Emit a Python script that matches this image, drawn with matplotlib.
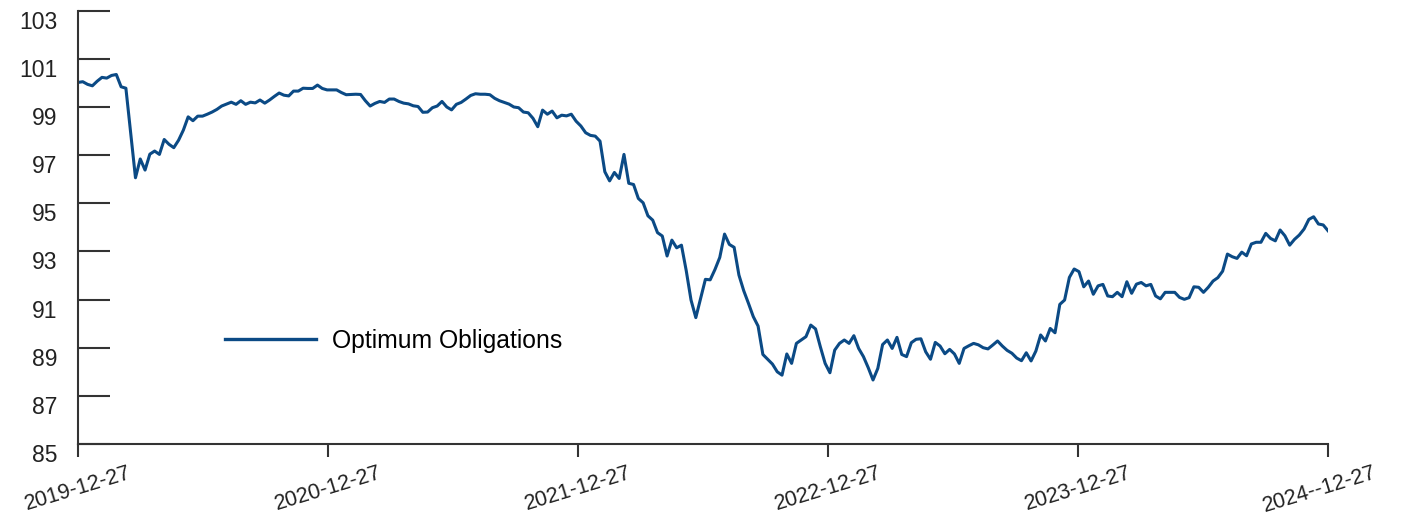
import matplotlib
matplotlib.use("Agg")
import matplotlib.pyplot as plt
import matplotlib.transforms as mtransforms
import pandas as pd

start_date = "2019-12-27"
series_name = "Optimum Obligations"
values = [
    100.02, 100.05, 99.94, 99.88, 100.07, 100.23, 100.20, 100.31, 100.35, 99.84,
    99.78, 97.90, 96.06, 96.84, 96.38, 97.04, 97.17, 97.03, 97.65, 97.45,
    97.31, 97.62, 98.04, 98.59, 98.43, 98.62, 98.62, 98.70, 98.79, 98.90,
    99.04, 99.12, 99.20, 99.11, 99.26, 99.11, 99.20, 99.17, 99.29, 99.16,
    99.29, 99.44, 99.58, 99.49, 99.46,
    99.66, 99.66, 99.78, 99.77, 99.77, 99.91, 99.77, 99.71, 99.71, 99.71,
    99.60, 99.51, 99.52, 99.53, 99.52, 99.26, 99.04, 99.15, 99.23, 99.19,
    99.33, 99.33, 99.23, 99.16, 99.13, 99.05, 99.02, 98.78, 98.79, 98.97,
    99.04, 99.23, 99.00, 98.88, 99.11, 99.19, 99.33, 99.48, 99.55, 99.53,
    99.53, 99.51, 99.36, 99.26,
    99.19, 99.12, 99.00, 98.97, 98.79, 98.76, 98.53, 98.18, 98.87, 98.70,
    98.83, 98.55, 98.66, 98.63, 98.70, 98.41, 98.21, 97.93, 97.82, 97.79,
    97.58, 96.31, 95.93, 96.28, 96.03, 97.03, 95.83, 95.78, 95.20, 95.02,
    94.48, 94.30, 93.78, 93.64, 92.81, 93.47, 93.15, 93.26, 92.20, 90.98,
    90.25, 91.05,
    91.84, 91.82, 92.25, 92.75, 93.72, 93.29, 93.17, 92.02, 91.37, 90.84,
    90.29, 89.90, 88.72, 88.52, 88.32, 88.00, 87.86, 88.74, 88.35, 89.18,
    89.32, 89.46, 89.94, 89.78, 89.04, 88.35, 87.96, 88.90, 89.18, 89.32,
    89.18, 89.50, 88.97, 88.63, 88.17, 87.66, 88.14, 89.13,
    89.32, 88.97, 89.43, 88.72, 88.63, 89.21, 89.35, 89.37, 88.83, 88.52,
    89.22, 89.07, 88.75, 88.93, 88.74, 88.35, 88.97, 89.08, 89.18, 89.12,
    89.00, 88.95, 89.11, 89.28, 89.07, 88.89, 88.77, 88.57, 88.46, 88.79,
    88.45, 88.86, 89.53, 89.28, 89.80, 89.62, 90.80, 90.98,
    91.92, 92.27, 92.16, 91.53, 91.77, 91.22, 91.57, 91.63, 91.15, 91.12,
    91.30, 91.12, 91.74, 91.26, 91.64, 91.71, 91.57, 91.63, 91.15, 91.03,
    91.30, 91.30, 91.30, 91.09, 91.01, 91.08, 91.53, 91.51, 91.30, 91.51,
    91.77, 91.91, 92.18, 92.89, 92.78, 92.71, 92.97, 92.82, 93.31, 93.38,
    93.38, 93.75, 93.54, 93.44, 93.89, 93.65, 93.26, 93.50, 93.68, 93.93,
    94.33, 94.44, 94.14, 94.10, 93.86,
]
xtick_dates = ["2019-12-27", "2020-12-27", "2021-12-27", "2022-12-27", "2023-12-27", "2024-12-27"]
xtick_labels = ["2019-12-27", "2020-12-27", "2021-12-27", "2022-12-27", "2023-12-27", "2024--12-27"]
yticks = [85, 87, 89, 91, 93, 95, 97, 99, 101, 103]

dates = pd.date_range(start_date, periods=len(values), freq="7D")

plt.rcParams["font.family"] = ["Liberation Sans", "DejaVu Sans"]

W, H = 1405, 515
fig = plt.figure(figsize=(W / 100, H / 100), dpi=100)
ax = fig.add_axes([78 / W, (H - 444) / H, 1250 / W, (444 - 10.7) / H])

line_color = "#0b4a85"
axis_color = "#333333"
ax.plot(dates, values, color=line_color, lw=2.2, label=series_name, solid_joinstyle="round")

ax.set_xlim(pd.Timestamp(xtick_dates[0]), pd.Timestamp(xtick_dates[-1]))
ax.set_ylim(85, 103)
ax.set_xticks([pd.Timestamp(d) for d in xtick_dates])
ax.set_xticklabels(xtick_labels, rotation=17, ha="center", rotation_mode="default")
ax.set_yticks(yticks)
ax.set_yticklabels([str(v) for v in yticks])

for s in ["top", "right"]:
    ax.spines[s].set_visible(False)
for s in ["left", "bottom"]:
    ax.spines[s].set_color(axis_color)
    ax.spines[s].set_linewidth(1.5)

ax.tick_params(axis="y", direction="in", length=23, width=1.5, color=axis_color,
               labelsize=16.5, pad=15, labelcolor="#222222")
ax.tick_params(axis="x", direction="out", length=9, width=1.5, color=axis_color,
               labelsize=15.5, pad=4, labelcolor="#222222")
for lab in ax.get_yticklabels():
    lab.set_verticalalignment("top")

xlabs = ax.get_xticklabels()
xlabs[-1].set_transform(xlabs[-1].get_transform() +
                        mtransforms.ScaledTranslation(-8 / 100, 0, fig.dpi_scale_trans))

leg = ax.legend(loc="center left", bbox_to_anchor=(225 / W, 1 - 341 / H),
                bbox_transform=fig.transFigure, frameon=False, fontsize=17.8,
                handlelength=3.7, handletextpad=0.62, borderpad=0, borderaxespad=0)
for h in leg.get_lines():
    h.set_linewidth(2.4)

fig.savefig("out.png", dpi=100)
